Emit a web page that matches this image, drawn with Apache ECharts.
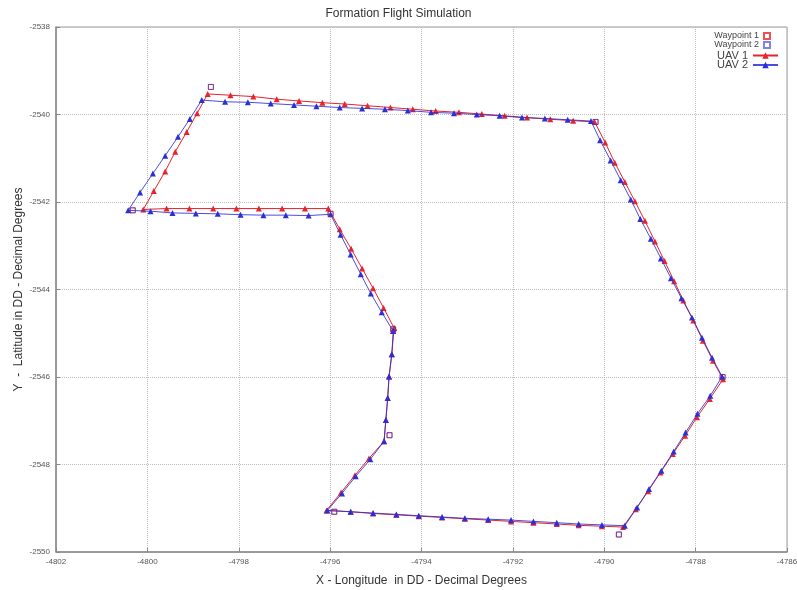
<!DOCTYPE html>
<html>
<head>
<meta charset="utf-8">
<script src="https://cdn.jsdelivr.net/npm/echarts@6/dist/echarts.min.js"></script>
<style>html,body{margin:0;padding:0;background:#fff;}#c{width:797px;height:590px;}</style>
</head>
<body>
<div id="c"></div>
<script>
// ---- Data (longitude X, latitude Y) ----
const xTicks = [-4802, -4800, -4798, -4796, -4794, -4792, -4790, -4788, -4786];
const yTicks = [-2550, -2548, -2546, -2544, -2542, -2540, -2538];

const waypoint1X = [-4794.62, -4794.70, -4795.91, -4789.68, -4787.41, -4790.19, -4798.61, -4800.32, -4795.99];
const waypoint1Y = [-2544.91, -2547.33, -2549.08, -2549.60, -2546.00, -2540.17, -2539.37, -2542.19, -2542.27];
const waypoint2X = [-4794.62, -4794.70, -4795.91, -4789.68, -4787.41, -4790.19, -4798.61, -4800.32, -4795.99];
const waypoint2Y = [-2544.91, -2547.33, -2549.08, -2549.60, -2546.00, -2540.17, -2539.37, -2542.19, -2542.27];

const uav1X = [
  -4794.60, -4794.65, -4794.71, -4794.74, -4794.78, -4794.82,
  -4795.15, -4795.46, -4795.76, -4796.08,
  -4795.55, -4795.06, -4794.55, -4794.06, -4793.55, -4793.05, -4792.54, -4792.04, -4791.55, -4791.04, -4790.56, -4790.05, -4789.59,
  -4789.31, -4789.04, -4788.77, -4788.50, -4788.23, -4787.97, -4787.69, -4787.40,
  -4787.62, -4787.84, -4788.05, -4788.27, -4788.47, -4788.68, -4788.89, -4789.11, -4789.33, -4789.55, -4789.77, -4789.98, -4790.21,
  -4790.68, -4791.18, -4791.69, -4792.18, -4792.68, -4793.18, -4793.69, -4794.19, -4794.68, -4795.18, -4795.68, -4796.17, -4796.68, -4797.17, -4797.68, -4798.18, -4798.68,
  -4798.91, -4799.14, -4799.39, -4799.61, -4799.86, -4800.09,
  -4799.58, -4799.08, -4798.56, -4798.05, -4797.56, -4797.05, -4796.55, -4796.04,
  -4795.79, -4795.54, -4795.30, -4795.06, -4794.83, -4794.60
];
const uav1Y = [
  -2544.88, -2545.48, -2545.99, -2546.48, -2546.98, -2547.47,
  -2547.86, -2548.25, -2548.64, -2549.05,
  -2549.08, -2549.12, -2549.15, -2549.18, -2549.21, -2549.24, -2549.27, -2549.30, -2549.33, -2549.36, -2549.39, -2549.41, -2549.43,
  -2549.02, -2548.61, -2548.18, -2547.76, -2547.34, -2546.92, -2546.50, -2546.05,
  -2545.63, -2545.17, -2544.71, -2544.25, -2543.81, -2543.35, -2542.90, -2542.43, -2541.98, -2541.54, -2541.10, -2540.64, -2540.17,
  -2540.14, -2540.11, -2540.07, -2540.03, -2539.99, -2539.95, -2539.92, -2539.88, -2539.84, -2539.80, -2539.76, -2539.73, -2539.69, -2539.65, -2539.59, -2539.56, -2539.53,
  -2539.97, -2540.40, -2540.85, -2541.30, -2541.75, -2542.17,
  -2542.15, -2542.15, -2542.15, -2542.15, -2542.15, -2542.15, -2542.15, -2542.15,
  -2542.62, -2543.07, -2543.52, -2543.97, -2544.42, -2544.88
];

const uav2X = [
  -4794.62, -4794.65, -4794.71, -4794.74, -4794.78, -4794.82,
  -4795.12, -4795.44, -4795.74, -4796.06,
  -4795.55, -4795.06, -4794.55, -4794.06, -4793.55, -4793.05, -4792.54, -4792.04, -4791.55, -4791.04, -4790.56, -4790.05, -4789.55,
  -4789.28, -4789.02, -4788.75, -4788.48, -4788.22, -4787.96, -4787.68, -4787.42,
  -4787.64, -4787.86, -4788.08, -4788.31, -4788.54, -4788.76, -4788.98, -4789.21, -4789.42, -4789.64, -4789.86, -4790.09, -4790.29,
  -4790.80, -4791.30, -4791.80, -4792.29, -4792.79, -4793.29, -4793.79, -4794.30, -4794.80, -4795.30, -4795.79, -4796.30, -4796.79, -4797.30, -4797.80, -4798.30, -4798.81,
  -4799.07, -4799.33, -4799.61, -4799.88, -4800.16, -4800.42,
  -4799.93, -4799.45, -4798.94, -4798.46, -4797.96, -4797.46, -4796.97, -4796.47, -4795.99,
  -4795.77, -4795.55, -4795.33, -4795.11, -4794.87, -4794.62
];
const uav2Y = [
  -2544.95, -2545.48, -2545.99, -2546.48, -2546.98, -2547.47,
  -2547.88, -2548.27, -2548.66, -2549.05,
  -2549.08, -2549.11, -2549.14, -2549.17, -2549.20, -2549.23, -2549.25, -2549.27, -2549.30, -2549.33, -2549.36, -2549.38, -2549.40,
  -2548.98, -2548.56, -2548.14, -2547.70, -2547.27, -2546.84, -2546.43, -2545.99,
  -2545.56, -2545.10, -2544.64, -2544.20, -2543.74, -2543.29, -2542.84, -2542.39, -2541.94, -2541.50, -2541.05, -2540.59, -2540.15,
  -2540.12, -2540.09, -2540.07, -2540.03, -2540.00, -2539.97, -2539.95, -2539.91, -2539.88, -2539.86, -2539.84, -2539.81, -2539.78, -2539.75, -2539.72, -2539.71, -2539.67,
  -2540.10, -2540.51, -2540.94, -2541.35, -2541.78, -2542.19,
  -2542.21, -2542.25, -2542.26, -2542.27, -2542.29, -2542.30, -2542.30, -2542.31, -2542.28,
  -2542.75, -2543.20, -2543.65, -2544.09, -2544.52, -2544.95
];

function pairs(xs, ys) { return xs.map((x, i) => [x, ys[i]]); }
function plain(v) { return String(v); }

const RED = '#e8232b';
const BLUE = '#2a2fd6';
const FONT = '"Liberation Sans", Arial, sans-serif';

const chart = echarts.init(document.getElementById('c'), null, { renderer: 'canvas' });
chart.setOption({
  animation: false,
  backgroundColor: '#fff',
  title: {
    text: 'Formation Flight Simulation',
    left: 'center', top: 3,
    textStyle: { fontFamily: FONT, fontSize: 12, fontWeight: 'normal', color: '#333' }
  },
  legend: [
    {
      data: ['Waypoint 1', 'Waypoint 2'],
      orient: 'vertical', right: 26, top: 31.5, align: 'right', padding: 0,
      itemWidth: 6, itemHeight: 6, itemGap: 0,
      textStyle: { fontFamily: FONT, fontSize: 9, color: '#444', lineHeight: 9 }
    },
    {
      data: ['UAV 1', 'UAV 2'],
      orient: 'vertical', right: 18, top: 50, align: 'right', padding: 0,
      itemWidth: 25, itemHeight: 8, itemGap: -1.5,
      textStyle: { fontFamily: FONT, fontSize: 11, color: '#444', lineHeight: 9 }
    }
  ],
  grid: {
    left: 56, right: 10, top: 27, bottom: 38,
    outerBoundsMode: 'none', containLabel: false,
    show: true, borderColor: '#9a9a9a', borderWidth: 1, backgroundColor: 'transparent'
  },
  xAxis: {
    type: 'value', min: xTicks[0], max: xTicks[xTicks.length - 1], interval: 2,
    name: 'X - Longitude  in DD - Decimal Degrees',
    nameLocation: 'middle', nameGap: 23,
    nameTextStyle: { fontFamily: FONT, fontSize: 12, color: '#333' },
    axisLine: { onZero: false, lineStyle: { color: '#8a8a8a', width: 1.5 } },
    axisTick: { inside: true, length: 4, lineStyle: { color: '#8a8a8a' } },
    axisLabel: { fontFamily: FONT, fontSize: 8, color: '#555', margin: 6, showMinLabel: true, showMaxLabel: true, formatter: plain },
    splitLine: { show: true, lineStyle: { color: '#bdbdbd', type: 'dotted', width: 1 } }
  },
  yAxis: {
    type: 'value', min: yTicks[0], max: yTicks[yTicks.length - 1], interval: 2,
    name: 'Y  -  Latitude in DD - Decimal Degrees',
    nameLocation: 'middle', nameGap: 31, nameRotate: 90, nameMoveOverlap: false,
    nameTextStyle: { fontFamily: FONT, fontSize: 12, color: '#333' },
    axisLine: { onZero: false, lineStyle: { color: '#8a8a8a', width: 1.5 } },
    axisTick: { inside: true, length: 4, lineStyle: { color: '#8a8a8a' } },
    axisLabel: { fontFamily: FONT, fontSize: 8, color: '#555', margin: 6, showMinLabel: true, showMaxLabel: true, formatter: plain },
    splitLine: { show: true, lineStyle: { color: '#bdbdbd', type: 'dotted', width: 1 } }
  },
  series: [
    {
      name: 'UAV 1', type: 'line', data: pairs(uav1X, uav1Y),
      symbol: 'triangle', symbolSize: 6, showAllSymbol: true,
      lineStyle: { color: RED, width: 1 }, itemStyle: { color: RED },
      z: 2
    },
    {
      name: 'UAV 2', type: 'line', data: pairs(uav2X, uav2Y),
      symbol: 'triangle', symbolSize: 6, showAllSymbol: true,
      lineStyle: { color: BLUE, width: 1, opacity: 0.85 }, itemStyle: { color: BLUE },
      z: 3
    },
    {
      name: 'Waypoint 1', type: 'scatter', data: pairs(waypoint1X, waypoint1Y),
      symbol: 'rect', symbolSize: 5,
      itemStyle: { color: 'rgba(255,255,255,0)', borderColor: RED, borderWidth: 1 },
      z: 4
    },
    {
      name: 'Waypoint 2', type: 'scatter', data: pairs(waypoint2X, waypoint2Y),
      symbol: 'rect', symbolSize: 5,
      itemStyle: { color: 'rgba(255,255,255,0)', borderColor: BLUE, borderWidth: 1, opacity: 0.6 },
      z: 5
    }
  ]
});
</script>
</body>
</html>
